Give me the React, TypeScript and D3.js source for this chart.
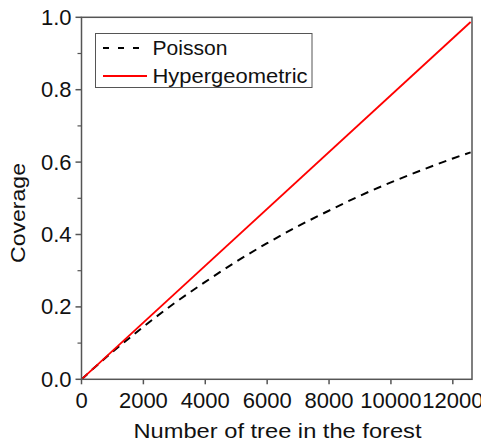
import React from "react";
import * as d3 from "d3";

const xTicks = [0, 2000, 4000, 6000, 8000, 10000, 12000];
const yTicks = [0, 0.2, 0.4, 0.6, 0.8, 1.0];
const yMinorTicks = [0.1, 0.3, 0.5, 0.7, 0.9];

const poissonX = [0, 1000, 2000, 3000, 4000, 5000, 6000, 7000, 8000, 9000, 10000, 11000, 12000, 12575];
const poissonY = [0, 0.0755, 0.145, 0.21, 0.269, 0.325, 0.376, 0.423, 0.466, 0.507, 0.544, 0.578, 0.61, 0.627];

const hyperX = [0, 12575];
const hyperY = [0, 0.987];

const seriesNames = ["Poisson", "Hypergeometric"];

export default function App() {
  const W = 481, H = 444;
  const left = 81.5, right = 472, top = 17.3, bottom = 379.3;
  const x = d3.scaleLinear().domain([0, 12620]).range([left, right]);
  const y = d3.scaleLinear().domain([0, 1]).range([bottom, top]);
  const font = "'Liberation Sans', Arial, sans-serif";
  const axisColor = "#555";

  const line = d3.line<[number, number]>().x(d => x(d[0])).y(d => y(d[1])).curve(d3.curveMonotoneX);
  const pPts: [number, number][] = poissonX.map((v, i) => [v, poissonY[i]]);
  const hPts: [number, number][] = hyperX.map((v, i) => [v, hyperY[i]]);

  return (
    <svg width={W} height={H} style={{ position: "absolute", left: 0, top: 0, background: "#fff" }}>
      <rect x={0} y={0} width={W} height={H} fill="#fff" />
      <path d={line(pPts) || ""} fill="none" stroke="#000" strokeWidth={2} strokeDasharray="8,6" />
      <path d={line(hPts) || ""} fill="none" stroke="#ff0000" strokeWidth={1.8} />
      <rect x={left} y={top} width={right - left} height={bottom - top} fill="none" stroke={axisColor} strokeWidth={1.5} />
      {xTicks.map(t => (
        <g key={"x" + t}>
          <line x1={x(t)} x2={x(t)} y1={bottom} y2={bottom + 5} stroke={axisColor} strokeWidth={1.5} />
          <text x={x(t)} y={408} textAnchor="middle" fontFamily={font} fontSize={22} fill="#111">{t}</text>
        </g>
      ))}
      {yTicks.map(t => (
        <g key={"y" + t}>
          <line x1={left - 6} x2={left} y1={y(t)} y2={y(t)} stroke={axisColor} strokeWidth={1.5} />
          <text x={left - 10} y={y(t) + 7.5} textAnchor="end" fontFamily={font} fontSize={22} fill="#111">{t.toFixed(1)}</text>
        </g>
      ))}
      {yMinorTicks.map(t => (
        <line key={"m" + t} x1={left - 4} x2={left} y1={y(t)} y2={y(t)} stroke={axisColor} strokeWidth={1.2} />
      ))}
      <text x={133.5} y={437.5} fontFamily={font} fontSize={20} fill="#111" textLength={288} lengthAdjust="spacingAndGlyphs">Number of tree in the forest</text>
      <text transform={`translate(24.5, 263) rotate(-90)`} fontFamily={font} fontSize={21} fill="#111" textLength={100} lengthAdjust="spacingAndGlyphs">Coverage</text>
      <g>
        <rect x={95.5} y={33.5} width={216.5} height={54} fill="#fff" stroke={axisColor} strokeWidth={1} />
        <line x1={103} x2={147} y1={48} y2={48} stroke="#000" strokeWidth={2} strokeDasharray="6,9" />
        <text x={152.5} y={55} fontFamily={font} fontSize={20} fill="#111" textLength={75} lengthAdjust="spacingAndGlyphs">{seriesNames[0]}</text>
        <line x1={103} x2={147} y1={76} y2={76} stroke="#ff0000" strokeWidth={1.8} />
        <text x={152.5} y={83} fontFamily={font} fontSize={20} fill="#111" textLength={155} lengthAdjust="spacingAndGlyphs">{seriesNames[1]}</text>
      </g>
    </svg>
  );
}
